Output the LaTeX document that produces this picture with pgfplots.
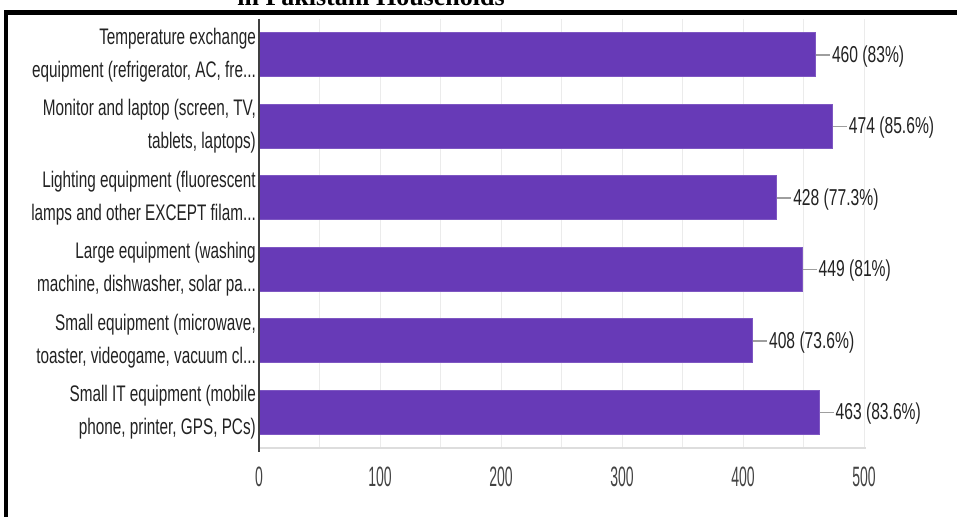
\documentclass[border=0pt]{standalone}
\usepackage{fontspec}
\setmainfont{Liberation Sans}[FakeStretch=0.68]
\newfontfamily\tickfont{Liberation Sans}[FakeStretch=0.5]
\newfontfamily\titlefont{Liberation Serif}
\usepackage{pgfplots}
\pgfplotsset{compat=1.18}
\definecolor{barfill}{HTML}{673AB7}
\definecolor{baredge}{HTML}{7E57C2}
\definecolor{txt}{HTML}{222222}
\definecolor{gridc}{HTML}{EBEBEB}
\definecolor{conn}{HTML}{9E9E9E}
\definecolor{baseaxis}{HTML}{DDDDDD}
\newcommand{\el}{.\kern0pt.\kern0pt.}
\begin{document}
\begin{tikzpicture}[x=1pt,y=1pt]
\useasboundingbox (0,0) rectangle (957,516);
\clip (0,0) rectangle (957,516);
\node[anchor=base, font=\titlefont\bfseries\fontsize{26}{30}\selectfont] at (371,510) {in Pakistani Households};
\draw[line width=4.5pt] (6,-10) -- (6,503.5) -- (970,503.5);
\begin{axis}[
  at={(259pt,68pt)}, anchor=south west,
  scale only axis, width=605pt, height=429pt,
  xbar, bar width=44pt,
  xmin=0, xmax=500, ymin=-0.5, ymax=5.5, y dir=reverse,
  xtick={0,100,200,300,400,500}, minor xtick={50,150,250,350,450},
  ytick={0,1,2,3,4,5},
  yticklabels={{Temperature exchange\\equipment (refrigerator, AC, fre\el},
               {Monitor and laptop (screen, TV,\\tablets, laptops)},
               {Lighting equipment (fluorescent\\lamps and other EXCEPT filam\el},
               {Large equipment (washing\\machine, dishwasher, solar pa\el},
               {Small equipment (microwave,\\toaster, videogame, vacuum cl\el},
               {Small IT equipment (mobile\\phone, printer, GPS, PCs)}},
  yticklabel style={align=right, inner sep=0pt, xshift=-3pt, text=txt,
                    font=\fontsize{22.5}{33}\selectfont},
  xticklabel style={inner sep=0pt, anchor=north, yshift=-19pt, text=txt!85,
                    font=\tickfont\fontsize{28}{30}\selectfont},
  /pgf/number format/assume math mode=true,
  xmajorgrids, xminorgrids,
  major grid style={gridc, line width=1pt},
  minor grid style={gridc, line width=0.8pt},
  major tick length=0pt, minor tick length=0pt,
  axis line style={draw=none},
  clip=false,
  point meta=explicit symbolic,
  nodes near coords={\textcolor{conn}{\rule[6.6pt]{14pt}{1.5pt}}\hspace{2pt}\pgfplotspointmeta},
  nodes near coords style={anchor=base west, inner sep=0pt, yshift=-7.5pt, text=txt,
                           font=\fontsize{23}{26}\selectfont},
]
\addplot[fill=barfill, draw=baredge, line width=0.8pt] coordinates {
  (460,0) [460 (83\%)]
  (474,1) [474 (85.6\%)]
  (428,2) [428 (77.3\%)]
  (449,3) [449 (81\%)]
  (408,4) [408 (73.6\%)]
  (463,5) [463 (83.6\%)]
};
\end{axis}
\draw[baseaxis, line width=2pt] (259,68) -- (866,68);
\draw[black!75, line width=1.2pt] (259,497) -- (259,64);
\end{tikzpicture}
\end{document}
